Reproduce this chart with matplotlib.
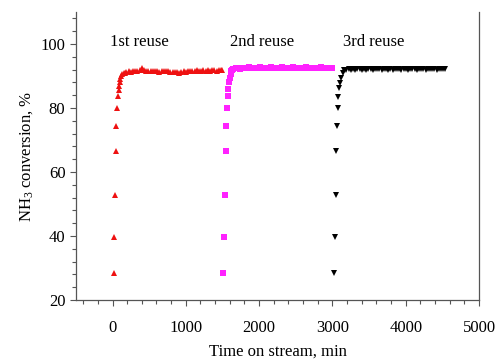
"""NH3 conversion vs time on stream for three catalyst reuse runs."""

import matplotlib
matplotlib.use("Agg")
import matplotlib.pyplot as plt
from matplotlib.ticker import MultipleLocator

plt.rcParams["font.family"] = ["Liberation Serif", "DejaVu Serif"]
plt.rcParams["mathtext.default"] = "regular"

# 1st reuse (red triangles)
red_t = [14, 23, 32, 41, 50, 59, 73, 82, 90, 98, 108, 120, 135, 155, 175,
         190, 220, 250, 280, 310, 340, 370, 400, 430, 460, 490, 520, 550,
         580, 610, 640, 670, 700, 730, 760, 790, 820, 850, 880, 910, 940,
         970, 1000, 1030, 1060, 1090, 1120, 1150, 1180, 1210, 1240, 1270,
         1300, 1330, 1360, 1390, 1420, 1450, 1480, 1500]
red_y = [28.5, 39.8, 52.7, 66.6, 74.3, 79.9, 83.8, 85.5, 87.0, 88.2, 89.2,
         90.0, 90.6, 90.9, 91.0,
         91.2, 91.4, 91.3, 91.6, 91.5, 91.7, 91.9, 92.6, 91.8, 91.6, 91.5,
         91.7, 91.4, 91.6, 91.5, 91.3, 91.4, 91.6, 91.5, 91.4, 91.2, 91.3,
         91.1, 91.2, 91.0, 91.3, 91.4, 91.2, 91.5, 91.6, 91.7, 91.5, 91.8,
         91.7, 91.6, 91.9, 91.7, 91.8, 91.6, 91.9, 91.8, 91.7, 92.0, 91.8,
         91.9]

# 2nd reuse (magenta squares)
mag_t = [1507, 1515, 1530, 1545, 1552, 1562, 1572, 1580, 1590, 1600, 1610,
         1620, 1635, 1650,
         1680, 1710, 1740, 1770, 1800, 1830, 1860, 1890, 1920, 1950, 1980,
         2010, 2040, 2070, 2100, 2130, 2160, 2190, 2220, 2250, 2280, 2310,
         2340, 2370, 2400, 2430, 2460, 2490, 2520, 2550, 2580, 2610, 2640,
         2670, 2700, 2730, 2760, 2790, 2820, 2850, 2880, 2910, 2940, 2970,
         3000]
mag_y = [28.5, 39.8, 52.7, 66.6, 74.3, 79.9, 83.8, 86.0, 88.0, 89.5, 90.7,
         91.5, 92.0, 92.3,
         92.4, 92.5, 92.3, 92.6, 92.5, 92.4, 92.7, 92.5, 92.6, 92.4, 92.5,
         92.7, 92.6, 92.5, 92.4, 92.6, 92.8, 92.5, 92.6, 92.4, 92.5, 92.7,
         92.6, 92.5, 92.6, 92.4, 92.7, 92.5, 92.6, 92.5, 92.4, 92.6, 92.7,
         92.5, 92.6, 92.5, 92.4, 92.6, 92.5, 92.7, 92.6, 92.5, 92.6, 92.4,
         92.5]

# 3rd reuse (black inverted triangles)
blk_t = [3027, 3036, 3045, 3055, 3063, 3072, 3081, 3095, 3108, 3118, 3140,
         3160,
         3190, 3220, 3250, 3280, 3310, 3340, 3370, 3400, 3430, 3460, 3490,
         3520, 3550, 3580, 3610, 3640, 3670, 3700, 3730, 3760, 3790, 3820,
         3850, 3880, 3910, 3940, 3970, 4000, 4030, 4060, 4090, 4120, 4150,
         4180, 4210, 4240, 4270, 4300, 4330, 4360, 4390, 4420, 4450, 4480,
         4510, 4530]
blk_y = [28.5, 39.8, 52.7, 66.6, 74.3, 79.9, 83.5, 86.3, 87.8, 89.4, 90.9,
         91.8,
         92.0, 92.1, 91.9, 92.2, 92.0, 92.1, 92.3, 92.0, 92.1, 91.9, 92.2,
         92.1, 92.0, 92.2, 92.1, 92.3, 92.0, 92.1, 92.2, 91.9, 92.1, 92.0,
         92.2, 92.1, 92.3, 92.0, 92.1, 92.2, 92.0, 92.1, 92.3, 92.1, 92.0,
         92.2, 92.1, 92.2, 92.0, 92.1, 92.3, 92.1, 92.2, 92.0, 92.1, 92.2,
         92.3, 92.2]

labels = ["1st reuse", "2nd reuse", "3rd reuse"]
label_x = [-40, 1600, 3140]

fig = plt.figure(figsize=(4.99, 3.62), dpi=100)
ax = fig.add_axes([0.152, 0.171, 0.808, 0.796])

ax.plot(red_t, red_y, "^", color="#ee1111", ms=4.8, mew=0, ls="none")
ax.plot(mag_t, mag_y, "s", color="#ff22ff", ms=4.2, mew=0, ls="none")
ax.plot(blk_t, blk_y, "v", color="black", ms=4.8, mew=0, ls="none")

for text, x in zip(labels, label_x):
    ax.text(x, 100.6, text, fontsize=12, va="center", ha="left")

ax.set_xlim(-500, 5000)
ax.set_ylim(20, 110)
ax.set_xticks([0, 1000, 2000, 3000, 4000, 5000])
ax.set_yticks([20, 40, 60, 80, 100])
ax.xaxis.set_minor_locator(MultipleLocator(200))
ax.yaxis.set_minor_locator(MultipleLocator(4))
ax.tick_params(which="both", direction="out", colors="#555555",
               labelcolor="black", labelsize=12, right=False, top=False)
ax.tick_params(which="major", length=4, width=0.8)
ax.tick_params(which="minor", length=3, width=0.8)
ax.tick_params(axis="x", which="major", pad=10)

ax.spines["top"].set_visible(False)
for side in ("left", "right", "bottom"):
    ax.spines[side].set_color("#555555")
    ax.spines[side].set_linewidth(0.9)

ax.set_xlabel("Time on stream, min", fontsize=12, labelpad=6)
ax.set_ylabel("NH$_3$ conversion, %", fontsize=12)

fig.savefig("out.png", dpi=100)
